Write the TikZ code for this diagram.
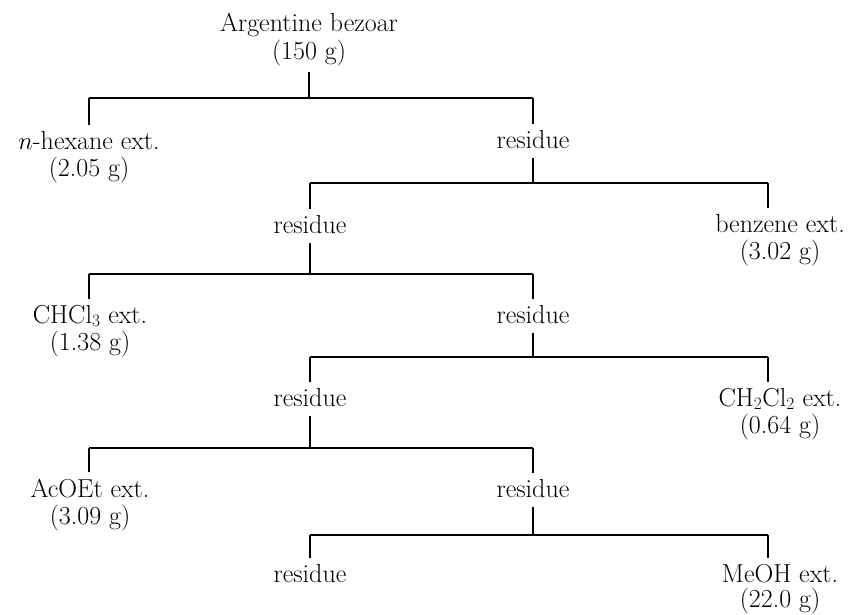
\documentclass[tikz,border=0pt]{standalone}
\usetikzlibrary{calc}
\begin{document}
\begin{tikzpicture}[x=1pt,y=-1pt,
  lbl/.style={inner sep=0pt,anchor=base,font=\fontsize{26}{30}\selectfont},
  conn/.style={line width=1.4pt,line cap=butt}]
\useasboundingbox (0,0) rectangle (851,614);
% root
\node[lbl] (root) at (309,31) {Argentine bezoar};
\node[lbl] (rootw) at (309,59) {(150 g)};
% level 1
\coordinate (b1l) at (89,98); \coordinate (b1r) at (533,98);
\node[lbl] (hex) at (89,149) {$n$-hexane ext.};
\node[lbl] (hexw) at (89,176) {(2.05 g)};
\node[lbl] (res1) at (533,148) {residue};
% level 2
\coordinate (b2l) at (310,183); \coordinate (b2r) at (768,183);
\node[lbl] (res2) at (310,233) {residue};
\node[lbl] (benz) at (780,232) {benzene ext.};
\node[lbl] (benzw) at (780,259) {(3.02 g)};
% level 3
\coordinate (b3l) at (89,274); \coordinate (b3r) at (533,274);
\node[lbl] (chcl) at (90,323) {CHCl$_3$ ext.};
\node[lbl] (chclw) at (90,350) {(1.38 g)};
\node[lbl] (res3) at (533,323) {residue};
% level 4
\coordinate (b4l) at (310,357); \coordinate (b4r) at (768,357);
\node[lbl] (res4) at (310,406) {residue};
\node[lbl] (dcm) at (780,406) {CH$_2$Cl$_2$ ext.};
\node[lbl] (dcmw) at (780,433) {(0.64 g)};
% level 5
\coordinate (b5l) at (89,448); \coordinate (b5r) at (533,448);
\node[lbl] (acoet) at (90,497) {AcOEt ext.};
\node[lbl] (acoetw) at (90,524) {(3.09 g)};
\node[lbl] (res5) at (533,497) {residue};
% level 6
\coordinate (b6l) at (310,535); \coordinate (b6r) at (768,535);
\node[lbl] (res6) at (310,582) {residue};
\node[lbl] (meoh) at (780,582) {MeOH ext.};
\node[lbl] (meohw) at (780,607) {(22.0 g)};
% stubs
\draw[conn] ($(rootw.south)+(0,6)$) -- (rootw.south |- b1l);
\draw[conn] ($(res1.south)+(0,10)$) -- (res1.south |- b2l);
\draw[conn] ($(res2.south)+(0,10)$) -- (res2.south |- b3l);
\draw[conn] ($(res3.south)+(0,10)$) -- (res3.south |- b4l);
\draw[conn] ($(res4.south)+(0,10)$) -- (res4.south |- b5l);
\draw[conn] ($(res5.south)+(0,10)$) -- (res5.south |- b6l);
% bars and drops
\foreach \bl/\br/\tl/\tr in {b1l/b1r/hex/res1, b2l/b2r/res2/benz, b3l/b3r/chcl/res3, b4l/b4r/res4/dcm, b5l/b5r/acoet/res5, b6l/b6r/res6/meoh}{
  \draw[conn] (\bl) -- (\br);
  \draw[conn] (\bl) -- ($(\bl |- \tl.north)+(0,-6)$);
  \draw[conn] (\br) -- ($(\br |- \tr.north)+(0,-6)$);
}
\end{tikzpicture}
\end{document}
